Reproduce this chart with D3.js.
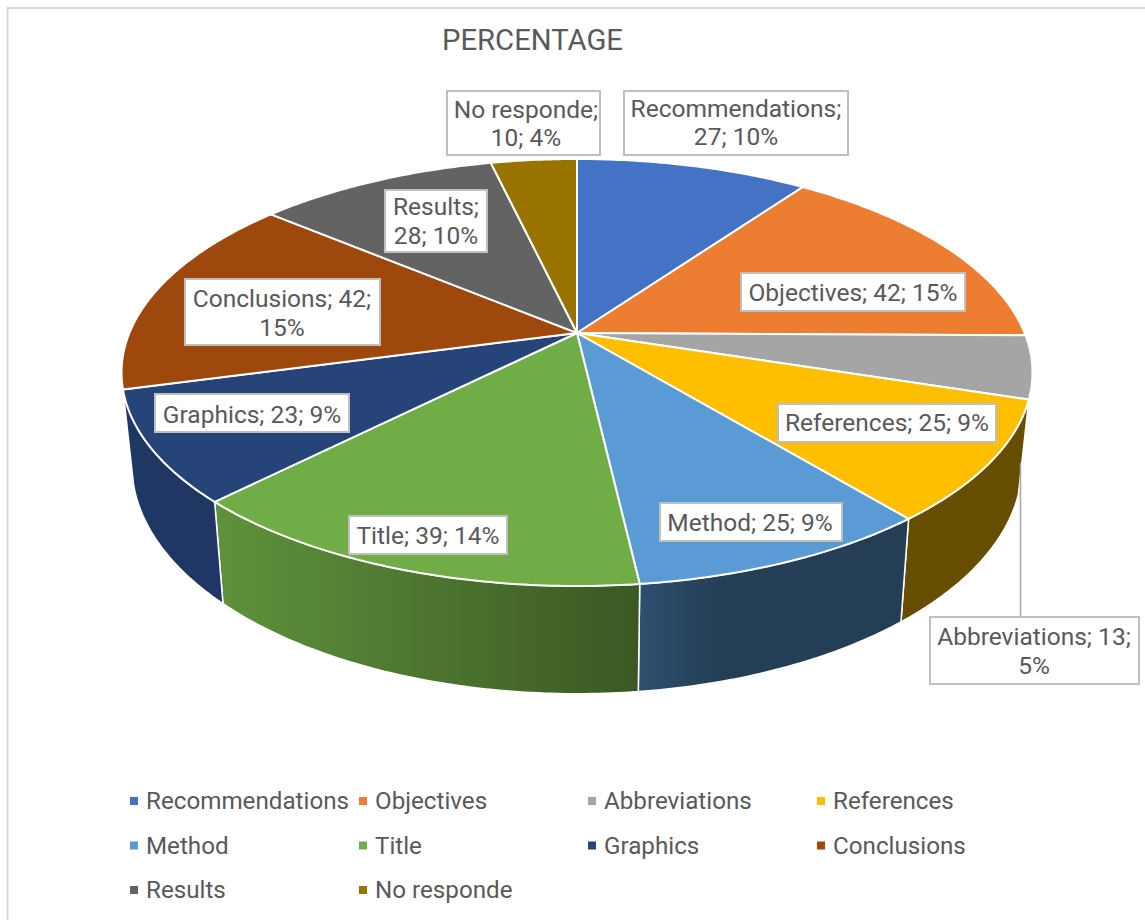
<!DOCTYPE html>
<html><head><meta charset="utf-8">
<script src="https://cdnjs.cloudflare.com/ajax/libs/d3/7.8.5/d3.min.js"></script>
<style>html,body{margin:0;padding:0;background:#fff}svg{display:block}text{font-family:Roboto,sans-serif;fill:#595959}</style>
</head><body><svg id="c" width="1145" height="920"></svg>
<script>
const categories=["Recommendations","Objectives","Abbreviations","References","Method","Title","Graphics","Conclusions","Results","No responde"];
const values=[27,42,13,25,25,39,23,42,28,10];
const percents=[10,15,5,9,9,14,9,15,10,4];
const colors=["#4472c4","#ed7d31","#a5a5a5","#fdbf00","#5b9bd5","#70ad47","#264478","#9e480e","#636363","#997300"];
const wallFrom=[null,null,null,"#664d00","#2f4f70","#5f923c","#1f3863",null,null,null];
const wallMid=[null,null,null,0,0.3,0.5,0.5,null,null,null];
const wallTo=[null,null,null,"#664d00","#243f55","#3b5823","#203664",null,null,null];

const labelLayout=[
 {cx:736,x0:624,x1:848,y0:91,y1:155,lines:[108.5,136.5],split:1},
 {cx:853,x0:741,x1:965,y0:273,y1:311,lines:[292],split:0},
 {cx:1034,x0:930,x1:1139,y0:617,y1:684,lines:[636,665],split:2},
 {cx:887,x0:778,x1:996,y0:404,y1:442,lines:[422],split:0},
 {cx:750,x0:660,x1:842,y0:503,y1:541,lines:[522],split:0},
 {cx:428,x0:349,x1:507,y0:516,y1:554,lines:[535],split:0},
 {cx:252,x0:155,x1:349,y0:394,y1:432,lines:[414],split:0},
 {cx:282,x0:185,x1:380,y0:279,y1:345,lines:[298,327],split:2},
 {cx:436,x0:385,x1:487,y0:190,y1:252,lines:[206.5,235],split:1},
 {cx:526,x0:447,x1:600,y0:91,y1:155,lines:[109,137],split:1}
];
const svg=d3.select("#c");
const defs=svg.append("defs");
svg.append("rect").attr("x",7.5).attr("y",8).attr("width",1150).attr("height",930).attr("fill","#fff").attr("stroke","#d9d9d9").attr("stroke-width",2);
svg.append("text").attr("x",442).attr("y",50).attr("font-size",29.5).attr("textLength",181).attr("lengthAdjust","spacingAndGlyphs").text("PERCENTAGE");

const pie=d3.pie().sort(null).value(d=>d)(values);
const cx=577,cy=333,k=0.185,ay=206.2,bx=447.6;
const rimTop=a=>{const X=Math.sin(a),Y=-Math.cos(a),s=1/(1-k*Y);return [cx+bx*X*s,cy+ay*Y*s];};
const rimBottom=a=>{const p=rimTop(a);return [cx+(p[0]-cx)*0.977,cy+90+(p[1]-cy)*1.07];};
const lineGen=d3.line();
const arcPts=(f,a0,a1)=>{const n=Math.max(2,Math.ceil((a1-a0)*80));return d3.range(n+1).map(i=>f(a0+(a1-a0)*i/n));};

pie.forEach((d,i)=>{
  if(!wallFrom[i])return;
  const rimT=arcPts(rimTop,d.startAngle,d.endAngle),rimB=arcPts(rimBottom,d.startAngle,d.endAngle).reverse();
  const pts=rimT.concat(rimB);
  const xe=d3.extent(pts,p=>p[0]);
  const g=defs.append("linearGradient").attr("id","w"+i).attr("gradientUnits","userSpaceOnUse")
    .attr("x1",xe[0]).attr("x2",xe[1]).attr("y1",0).attr("y2",0);
  g.append("stop").attr("offset",0).attr("stop-color",wallFrom[i]);
  g.append("stop").attr("offset",wallMid[i]===0.3?0.3:1).attr("stop-color",wallTo[i]);
  svg.append("path").attr("d",lineGen(pts)+"Z").attr("fill","url(#w"+i+")").attr("stroke","#fff").attr("stroke-width",1.5).attr("stroke-linejoin","round");
});
pie.forEach((d,i)=>{
  const pts=[[cx,cy]].concat(arcPts(rimTop,d.startAngle,d.endAngle));
  svg.append("path").attr("d",lineGen(pts)+"Z").attr("fill",colors[i]).attr("stroke","#fff").attr("stroke-width",2).attr("stroke-linejoin","round");
});
svg.append("line").attr("x1",1020.5).attr("x2",1020.5).attr("y1",463).attr("y2",617).attr("stroke","#a6a6a6").attr("stroke-width",1.5);
categories.forEach((c,i)=>{
  const L=labelLayout[i];
  svg.append("rect").attr("x",L.x0).attr("y",L.y0).attr("width",L.x1-L.x0).attr("height",L.y1-L.y0).attr("fill","#fff").attr("stroke","#bfbfbf").attr("stroke-width",2);
  const parts=[c,values[i],percents[i]+"%"];
  let rows;
  if(L.split===0) rows=[parts[0]+"; "+parts[1]+"; "+parts[2]];
  else if(L.split===1) rows=[parts[0]+";",parts[1]+"; "+parts[2]];
  else rows=[parts[0]+"; "+parts[1]+";",parts[2]];
  rows.forEach((t,j)=>svg.append("text").attr("x",L.cx).attr("y",L.lines[j]+8.5).attr("text-anchor","middle").attr("font-size",24.5).text(t));
});
const legX=d3.scalePoint().domain(d3.range(4)).range([130,817]);
const legY=d3.scalePoint().domain(d3.range(3)).range([801,890]);
categories.forEach((c,i)=>{
  const x=legX(i%4),y=legY(Math.floor(i/4));
  svg.append("rect").attr("x",x).attr("y",y-4).attr("width",8).attr("height",8).attr("fill",colors[i]);
  svg.append("text").attr("x",x+16).attr("y",y+8).attr("font-size",24.2).text(c);
});
</script></body></html>
